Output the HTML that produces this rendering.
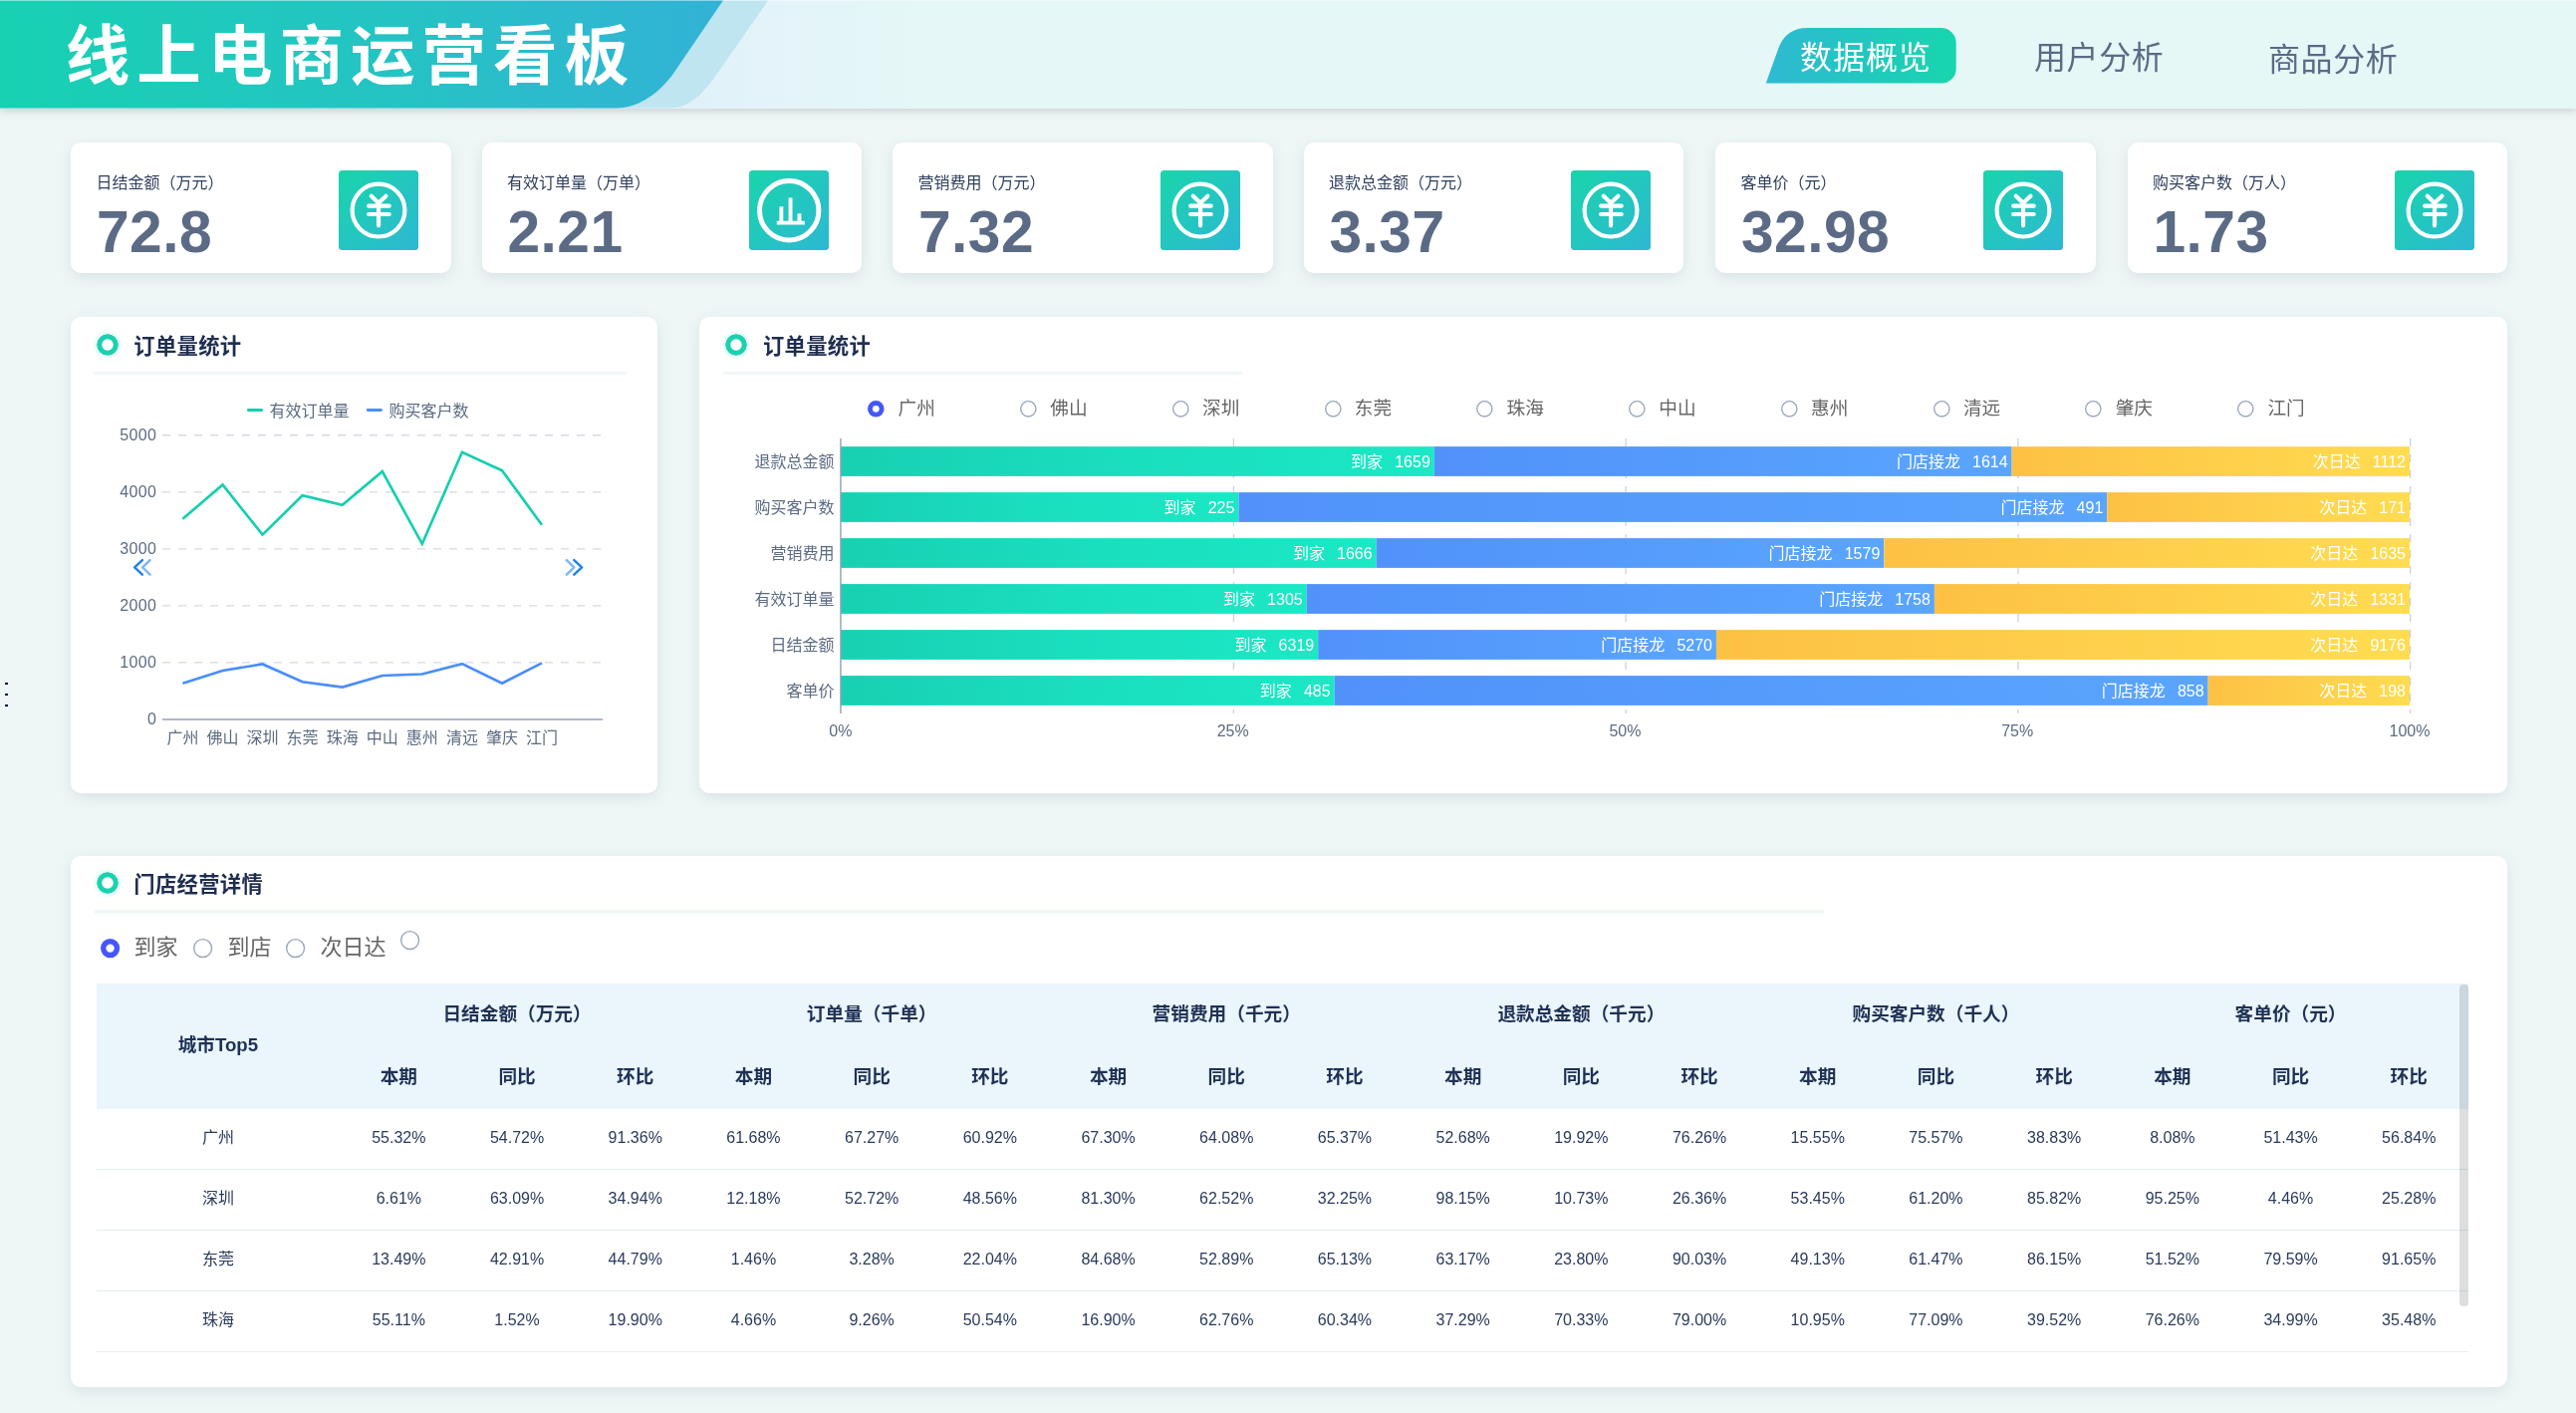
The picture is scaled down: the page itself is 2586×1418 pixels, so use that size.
<!DOCTYPE html><html lang="zh"><head><meta charset="utf-8"><title>线上电商运营看板</title><style>
*{box-sizing:border-box;margin:0;padding:0}
html,body{width:2586px;height:1418px;overflow:hidden}
body{background:#eef7f6;font-family:"Liberation Sans","Noto Sans CJK SC",sans-serif;color:#1f2e4f;position:relative}
.abs{position:absolute}
#root{position:absolute;left:0;top:0;width:2586px;height:1418px;will-change:transform}
#hdr{position:absolute;left:0;top:0;width:2586px;height:108.6px;background:linear-gradient(90deg,#e1f1f9 0,#e1f1f9 27%,#e4f4f9 31%,#e5f7f7 35.5%,#e5f8f6 100%);box-shadow:0 2px 8px rgba(90,100,110,.28)}
#hdr svg{position:absolute;left:0;top:0}
#ttl{position:absolute;left:65.8px;top:17.2px;font-size:64.5px;line-height:80px;font-weight:700;color:#fff;letter-spacing:7.05px;white-space:nowrap;transform-origin:0 50%;transform:scaleX(1.0)}
.tab{position:absolute;top:30px;height:56px;line-height:56px;font-size:32px;letter-spacing:.6px;color:#5b6b85;white-space:nowrap}
.card{position:absolute;top:143px;width:381.5px;height:130.7px;background:#fff;border-radius:10px;box-shadow:0 4px 14px rgba(110,130,150,.17)}
.card .lb{position:absolute;left:25.2px;top:29.5px;font-size:16px;line-height:22px;color:#2f3f5e;white-space:nowrap}
.card .nm{position:absolute;left:25.6px;top:57.1px;font-size:58.7px;line-height:66px;font-weight:700;color:#5b6b85;white-space:nowrap;letter-spacing:.5px}
.card svg{position:absolute;left:268.5px;top:28px}
.panel{position:absolute;background:#fff;border-radius:10px;box-shadow:0 4px 14px rgba(110,130,150,.17)}
.ptitle{position:absolute;left:63.3px;top:13.8px;letter-spacing:.3px;font-size:21.33px;line-height:32px;font-weight:700;color:#1f2e4f;white-space:nowrap}
.ring{position:absolute;left:25.8px;top:16.6px;width:22px;height:22px;border-radius:50%;background:radial-gradient(circle closest-side,#fff 0,#fff 5.2px,#1dd1af 6.1px,#1dd1af 10.4px,rgba(29,209,175,0) 11px);box-shadow:0 0 5px rgba(80,225,205,.45)}
.pline{position:absolute;left:23.5px;top:55px;height:3.4px;background:#f0f7f8}
.t16{font-size:16px;line-height:20px;white-space:nowrap}
.rad{position:absolute;border-radius:50%}
.rad.on{background:radial-gradient(circle closest-side,#fff 0,#fff calc(var(--h) - .5px),#4656f8 calc(var(--h) + .5px),#4656f8 calc(100% - .8px),rgba(70,86,248,0) 100%)}
.rad.off{background:radial-gradient(circle closest-side,#fff 0,#fff calc(100% - 1.9px),#a3b0c6 calc(100% - 1.3px),#a3b0c6 calc(100% - .6px),rgba(163,176,198,0) 100%)}
.rl{position:absolute;color:#666;white-space:nowrap}
</style></head><body><div id="root">
<div id="hdr">
<svg width="900" height="108.6" viewBox="0 0 900 107.7" preserveAspectRatio="none"><defs><linearGradient id="hg" x1="0" y1="0" x2="1" y2="0"><stop offset="0" stop-color="#17d1b2"/><stop offset="0.55" stop-color="#25c3c4"/><stop offset="1" stop-color="#33b2d6"/></linearGradient></defs>
<path d="M0 0H771.6L725.6 65.2C710.6 86.4 697 107.7 671 107.7H0Z" fill="#bfe5f1"/>
<path d="M0 0H726.2L676.7 72.2C664.2 90.4 642 107.7 619 107.7H0Z" fill="url(#hg)"/>
</svg>
<div class="abs" style="left:0;top:0;width:2586px;height:1px;background:rgba(255,255,255,.45)"></div>
<div id="ttl">线上电商运营看板</div>
<svg width="200" height="60" viewBox="0 0 200 60" style="left:1770px;top:26px"><defs><linearGradient id="tg" x1="0" y1="0" x2="1" y2="0"><stop offset="0" stop-color="#2eb9d3"/><stop offset="1" stop-color="#17d6ad"/></linearGradient></defs><path d="M2.8 57.6L14.8 23.9C20.2 8.7 30 2.1 44.6 2.1H178.7A15 15 0 0 1 193.7 17.1V43.1A14.5 14.5 0 0 1 179.2 57.6Z" fill="url(#tg)"/></svg>
<div class="tab" style="left:1807px;color:#fff;letter-spacing:1px">数据概览</div>
<div class="tab" style="left:2042px">用户分析</div>
<div class="tab" style="left:2277px;top:32px">商品分析</div>
</div>
<div class="card" style="left:71.3px"><div class="lb">日结金额（万元）</div><div class="nm">72.8</div><svg width="80" height="80" viewBox="0 0 80 80"><defs><linearGradient id="ig0" x1="0" y1="0" x2="1" y2="1"><stop offset="0" stop-color="#19d5ab"/><stop offset="1" stop-color="#2db8d3"/></linearGradient></defs><rect width="80" height="80" rx="3.5" fill="url(#ig0)"/><circle cx="40" cy="40.1" r="26.4" fill="none" stroke="#fff" stroke-width="4.2"/><path d="M32.8 25.8L40.05 32.7L47.4 25.8M40.05 32.7V55.3M30.1 35.7H50.7M30.1 44H50.7" fill="none" stroke="#fff" stroke-width="4.2" stroke-linecap="round" stroke-linejoin="round"/></svg></div>
<div class="card" style="left:483.8px"><div class="lb">有效订单量（万单）</div><div class="nm">2.21</div><svg width="80" height="80" viewBox="0 0 80 80"><defs><linearGradient id="ig1" x1="0" y1="0" x2="1" y2="1"><stop offset="0" stop-color="#19d5ab"/><stop offset="1" stop-color="#2db8d3"/></linearGradient></defs><rect width="80" height="80" rx="3.5" fill="url(#ig1)"/><circle cx="40.2" cy="40.3" r="29.7" fill="none" stroke="#fff" stroke-width="5"/><path d="M27.8 50.7H55.8V54.6H27.8ZM30.4 36.2H34.3V51H30.4ZM39.6 27.4H43.5V51H39.6ZM48.5 43.3H52.4V51H48.5Z" fill="#fff"/></svg></div>
<div class="card" style="left:896.3px"><div class="lb">营销费用（万元）</div><div class="nm">7.32</div><svg width="80" height="80" viewBox="0 0 80 80"><defs><linearGradient id="ig2" x1="0" y1="0" x2="1" y2="1"><stop offset="0" stop-color="#19d5ab"/><stop offset="1" stop-color="#2db8d3"/></linearGradient></defs><rect width="80" height="80" rx="3.5" fill="url(#ig2)"/><circle cx="40" cy="40.1" r="26.4" fill="none" stroke="#fff" stroke-width="4.2"/><path d="M32.8 25.8L40.05 32.7L47.4 25.8M40.05 32.7V55.3M30.1 35.7H50.7M30.1 44H50.7" fill="none" stroke="#fff" stroke-width="4.2" stroke-linecap="round" stroke-linejoin="round"/></svg></div>
<div class="card" style="left:1308.8px"><div class="lb">退款总金额（万元）</div><div class="nm">3.37</div><svg width="80" height="80" viewBox="0 0 80 80"><defs><linearGradient id="ig3" x1="0" y1="0" x2="1" y2="1"><stop offset="0" stop-color="#19d5ab"/><stop offset="1" stop-color="#2db8d3"/></linearGradient></defs><rect width="80" height="80" rx="3.5" fill="url(#ig3)"/><circle cx="40" cy="40.1" r="26.4" fill="none" stroke="#fff" stroke-width="4.2"/><path d="M32.8 25.8L40.05 32.7L47.4 25.8M40.05 32.7V55.3M30.1 35.7H50.7M30.1 44H50.7" fill="none" stroke="#fff" stroke-width="4.2" stroke-linecap="round" stroke-linejoin="round"/></svg></div>
<div class="card" style="left:1722.3px"><div class="lb">客单价（元）</div><div class="nm">32.98</div><svg width="80" height="80" viewBox="0 0 80 80"><defs><linearGradient id="ig4" x1="0" y1="0" x2="1" y2="1"><stop offset="0" stop-color="#19d5ab"/><stop offset="1" stop-color="#2db8d3"/></linearGradient></defs><rect width="80" height="80" rx="3.5" fill="url(#ig4)"/><circle cx="40" cy="40.1" r="26.4" fill="none" stroke="#fff" stroke-width="4.2"/><path d="M32.8 25.8L40.05 32.7L47.4 25.8M40.05 32.7V55.3M30.1 35.7H50.7M30.1 44H50.7" fill="none" stroke="#fff" stroke-width="4.2" stroke-linecap="round" stroke-linejoin="round"/></svg></div>
<div class="card" style="left:2135.8px"><div class="lb">购买客户数（万人）</div><div class="nm">1.73</div><svg width="80" height="80" viewBox="0 0 80 80"><defs><linearGradient id="ig5" x1="0" y1="0" x2="1" y2="1"><stop offset="0" stop-color="#19d5ab"/><stop offset="1" stop-color="#2db8d3"/></linearGradient></defs><rect width="80" height="80" rx="3.5" fill="url(#ig5)"/><circle cx="40" cy="40.1" r="26.4" fill="none" stroke="#fff" stroke-width="4.2"/><path d="M32.8 25.8L40.05 32.7L47.4 25.8M40.05 32.7V55.3M30.1 35.7H50.7M30.1 44H50.7" fill="none" stroke="#fff" stroke-width="4.2" stroke-linecap="round" stroke-linejoin="round"/></svg></div>
<div class="panel" style="left:71px;top:318px;width:589px;height:478px">
<div class="ring"></div><div class="ptitle">订单量统计</div><div class="pline" style="width:533px"></div>
</div>
<svg class="abs" style="left:71px;top:318px" width="589" height="478" viewBox="71 318 589 478" font-family='"Liberation Sans","Noto Sans CJK SC",sans-serif' font-size="16">
<text x="157.4" y="726.9" text-anchor="end" fill="#5c6b82" letter-spacing=".4">0</text>
<path d="M163 664.9H605" stroke="#d4d9e3" stroke-width="1.35" stroke-dasharray="8 8" fill="none"/>
<text x="157.4" y="669.8" text-anchor="end" fill="#5c6b82" letter-spacing=".4">1000</text>
<path d="M163 607.9H605" stroke="#d4d9e3" stroke-width="1.35" stroke-dasharray="8 8" fill="none"/>
<text x="157.4" y="612.8" text-anchor="end" fill="#5c6b82" letter-spacing=".4">2000</text>
<path d="M163 550.8H605" stroke="#d4d9e3" stroke-width="1.35" stroke-dasharray="8 8" fill="none"/>
<text x="157.4" y="555.7" text-anchor="end" fill="#5c6b82" letter-spacing=".4">3000</text>
<path d="M163 493.8H605" stroke="#d4d9e3" stroke-width="1.35" stroke-dasharray="8 8" fill="none"/>
<text x="157.4" y="498.7" text-anchor="end" fill="#5c6b82" letter-spacing=".4">4000</text>
<path d="M163 436.7H605" stroke="#d4d9e3" stroke-width="1.35" stroke-dasharray="8 8" fill="none"/>
<text x="157.4" y="441.6" text-anchor="end" fill="#5c6b82" letter-spacing=".4">5000</text>
<path d="M163 722H605" stroke="#93a0b8" stroke-width="1.35"/>
<text x="183.4" y="745.6" text-anchor="middle" fill="#5c6b82">广州</text>
<text x="223.5" y="745.6" text-anchor="middle" fill="#5c6b82">佛山</text>
<text x="263.5" y="745.6" text-anchor="middle" fill="#5c6b82">深圳</text>
<text x="303.6" y="745.6" text-anchor="middle" fill="#5c6b82">东莞</text>
<text x="343.7" y="745.6" text-anchor="middle" fill="#5c6b82">珠海</text>
<text x="383.8" y="745.6" text-anchor="middle" fill="#5c6b82">中山</text>
<text x="423.8" y="745.6" text-anchor="middle" fill="#5c6b82">惠州</text>
<text x="463.9" y="745.6" text-anchor="middle" fill="#5c6b82">清远</text>
<text x="504.0" y="745.6" text-anchor="middle" fill="#5c6b82">肇庆</text>
<text x="544.0" y="745.6" text-anchor="middle" fill="#5c6b82">江门</text>
<polyline fill="none" stroke="#17cfae" stroke-width="2.7" stroke-linejoin="miter" points="183.4,520.7 223.5,486.5 263.5,536.6 303.6,497.2 343.7,506.7 383.8,473.2 423.8,545.8 463.9,453.8 504.0,472.2 544.0,526.8"/>
<polyline fill="none" stroke="#4a8dfb" stroke-width="2.7" stroke-linejoin="miter" points="183.4,685.7 223.5,673.0 263.5,666.5 303.6,684.3 343.7,689.6 383.8,678.0 423.8,676.5 463.9,666.1 504.0,685.7 544.0,665.4"/>
<path d="M249.3 411.5H262.6" stroke="#17cfae" stroke-width="2.8" stroke-linecap="round"/><text x="270.6" y="417.7" fill="#5c6b82">有效订单量</text>
<path d="M369.2 411.5H382.5" stroke="#4a8dfb" stroke-width="2.8" stroke-linecap="round"/><text x="390.5" y="417.7" fill="#5c6b82">购买客户数</text>
<g fill="none" stroke-width="2.5" stroke-linecap="round" stroke-linejoin="round"><path d="M142.9 562.2L135.1 569.4L142.9 576.6" stroke="#2282ed"/><path d="M150.6 562.2L143.1 569.4L150.6 576.6" stroke="#7db8f7"/><path d="M568.8 562.2L576.3 569.4L568.8 576.6" stroke="#7db8f7"/><path d="M576.3 562.2L584.1 569.4L576.3 576.6" stroke="#2282ed"/></g>
</svg>
<div class="abs" style="left:5px;top:684.6px;width:3px;height:2.8px;background:#020c33"></div>
<div class="abs" style="left:5px;top:695.7px;width:3px;height:2.8px;background:#020c33"></div>
<div class="abs" style="left:5px;top:706.5px;width:3px;height:2.8px;background:#020c33"></div>
<div class="panel" style="left:702px;top:318px;width:1815px;height:478px">
<div class="ring" style="left:26.3px"></div><div class="ptitle" style="left:63.9px">订单量统计</div><div class="pline" style="width:521px"></div>
</div>
<svg class="abs" style="left:870.2px;top:400.5px" width="18.6" height="18.6"><circle cx="9.3" cy="9.3" r="5.85" fill="#fff" stroke="#4656f8" stroke-width="4.9"/></svg><div class="rl" style="left:901.5px;top:396px;font-size:18.67px;line-height:28px">广州</div>
<svg class="abs" style="left:1023.0px;top:400.5px" width="18.6" height="18.6"><circle cx="9.3" cy="9.3" r="7.65" fill="#fff" stroke="#9aa7bd" stroke-width="1.4"/></svg><div class="rl" style="left:1054.3px;top:396px;font-size:18.67px;line-height:28px">佛山</div>
<svg class="abs" style="left:1175.7px;top:400.5px" width="18.6" height="18.6"><circle cx="9.3" cy="9.3" r="7.65" fill="#fff" stroke="#9aa7bd" stroke-width="1.4"/></svg><div class="rl" style="left:1207.0px;top:396px;font-size:18.67px;line-height:28px">深圳</div>
<svg class="abs" style="left:1328.5px;top:400.5px" width="18.6" height="18.6"><circle cx="9.3" cy="9.3" r="7.65" fill="#fff" stroke="#9aa7bd" stroke-width="1.4"/></svg><div class="rl" style="left:1359.8px;top:396px;font-size:18.67px;line-height:28px">东莞</div>
<svg class="abs" style="left:1481.3px;top:400.5px" width="18.6" height="18.6"><circle cx="9.3" cy="9.3" r="7.65" fill="#fff" stroke="#9aa7bd" stroke-width="1.4"/></svg><div class="rl" style="left:1512.6px;top:396px;font-size:18.67px;line-height:28px">珠海</div>
<svg class="abs" style="left:1634.0px;top:400.5px" width="18.6" height="18.6"><circle cx="9.3" cy="9.3" r="7.65" fill="#fff" stroke="#9aa7bd" stroke-width="1.4"/></svg><div class="rl" style="left:1665.3px;top:396px;font-size:18.67px;line-height:28px">中山</div>
<svg class="abs" style="left:1786.8px;top:400.5px" width="18.6" height="18.6"><circle cx="9.3" cy="9.3" r="7.65" fill="#fff" stroke="#9aa7bd" stroke-width="1.4"/></svg><div class="rl" style="left:1818.1px;top:396px;font-size:18.67px;line-height:28px">惠州</div>
<svg class="abs" style="left:1939.6px;top:400.5px" width="18.6" height="18.6"><circle cx="9.3" cy="9.3" r="7.65" fill="#fff" stroke="#9aa7bd" stroke-width="1.4"/></svg><div class="rl" style="left:1970.9px;top:396px;font-size:18.67px;line-height:28px">清远</div>
<svg class="abs" style="left:2092.4px;top:400.5px" width="18.6" height="18.6"><circle cx="9.3" cy="9.3" r="7.65" fill="#fff" stroke="#9aa7bd" stroke-width="1.4"/></svg><div class="rl" style="left:2123.7px;top:396px;font-size:18.67px;line-height:28px">肇庆</div>
<svg class="abs" style="left:2245.1px;top:400.5px" width="18.6" height="18.6"><circle cx="9.3" cy="9.3" r="7.65" fill="#fff" stroke="#9aa7bd" stroke-width="1.4"/></svg><div class="rl" style="left:2276.4px;top:396px;font-size:18.67px;line-height:28px">江门</div>
<svg class="abs" style="left:702px;top:318px" width="1815" height="478" viewBox="702 318 1815 478" font-family='"Liberation Sans","Noto Sans CJK SC",sans-serif' font-size="16" word-spacing="1.6">
<defs><linearGradient id="bg1" x1="0" y1="0" x2="1" y2="0"><stop offset="0" stop-color="#18d0b2"/><stop offset=".5" stop-color="#1adfbf"/><stop offset="1" stop-color="#1be8c5"/></linearGradient><linearGradient id="bg2" x1="0" y1="0" x2="1" y2="0"><stop offset="0" stop-color="#5192fa"/><stop offset="1" stop-color="#5aa5fd"/></linearGradient><linearGradient id="bg3" x1="0" y1="0" x2="1" y2="0"><stop offset="0" stop-color="#fdc144"/><stop offset="1" stop-color="#ffdc50"/></linearGradient></defs>
<path d="M1238.4 440V716" stroke="#ccd2dd" stroke-width="1.3" stroke-dasharray="8 8" fill="none"/>
<path d="M1632.1 440V716" stroke="#ccd2dd" stroke-width="1.3" stroke-dasharray="8 8" fill="none"/>
<path d="M2025.9 440V716" stroke="#ccd2dd" stroke-width="1.3" stroke-dasharray="8 8" fill="none"/>
<path d="M2419.6 440V716" stroke="#ccd2dd" stroke-width="1.3" stroke-dasharray="8 8" fill="none"/>
<text x="843.9" y="738.8" text-anchor="middle" fill="#5c6b82">0%</text>
<text x="1237.7" y="738.8" text-anchor="middle" fill="#5c6b82">25%</text>
<text x="1631.4" y="738.8" text-anchor="middle" fill="#5c6b82">50%</text>
<text x="2025.2" y="738.8" text-anchor="middle" fill="#5c6b82">75%</text>
<text x="2419.0" y="738.8" text-anchor="middle" fill="#5c6b82">100%</text>
<rect x="843.9" y="448.1" width="595.9" height="29.8" fill="url(#bg1)"/>
<rect x="1439.8" y="448.1" width="579.8" height="29.8" fill="url(#bg2)"/>
<rect x="2019.6" y="448.1" width="399.4" height="29.8" fill="url(#bg3)"/>
<text x="1435.8" y="468.7" text-anchor="end" fill="#fff" xml:space="preserve">到家  1659</text>
<text x="2015.6" y="468.7" text-anchor="end" fill="#fff" xml:space="preserve">门店接龙  1614</text>
<text x="2415.0" y="468.7" text-anchor="end" fill="#fff" xml:space="preserve">次日达  1112</text>
<text x="837.5" y="469.1" text-anchor="end" fill="#5c6b82">退款总金额</text>
<rect x="843.9" y="494.1" width="399.5" height="29.8" fill="url(#bg1)"/>
<rect x="1243.4" y="494.1" width="871.9" height="29.8" fill="url(#bg2)"/>
<rect x="2115.3" y="494.1" width="303.7" height="29.8" fill="url(#bg3)"/>
<text x="1239.4" y="514.7" text-anchor="end" fill="#fff" xml:space="preserve">到家  225</text>
<text x="2111.3" y="514.7" text-anchor="end" fill="#fff" xml:space="preserve">门店接龙  491</text>
<text x="2415.0" y="514.7" text-anchor="end" fill="#fff" xml:space="preserve">次日达  171</text>
<text x="837.5" y="515.1" text-anchor="end" fill="#5c6b82">购买客户数</text>
<rect x="843.9" y="540.1" width="537.7" height="29.8" fill="url(#bg1)"/>
<rect x="1381.6" y="540.1" width="509.6" height="29.8" fill="url(#bg2)"/>
<rect x="1891.3" y="540.1" width="527.7" height="29.8" fill="url(#bg3)"/>
<text x="1377.6" y="560.7" text-anchor="end" fill="#fff" xml:space="preserve">到家  1666</text>
<text x="1887.3" y="560.7" text-anchor="end" fill="#fff" xml:space="preserve">门店接龙  1579</text>
<text x="2415.0" y="560.7" text-anchor="end" fill="#fff" xml:space="preserve">次日达  1635</text>
<text x="837.5" y="561.1" text-anchor="end" fill="#5c6b82">营销费用</text>
<rect x="843.9" y="586.1" width="467.8" height="29.8" fill="url(#bg1)"/>
<rect x="1311.7" y="586.1" width="630.2" height="29.8" fill="url(#bg2)"/>
<rect x="1941.9" y="586.1" width="477.1" height="29.8" fill="url(#bg3)"/>
<text x="1307.7" y="606.7" text-anchor="end" fill="#fff" xml:space="preserve">到家  1305</text>
<text x="1937.9" y="606.7" text-anchor="end" fill="#fff" xml:space="preserve">门店接龙  1758</text>
<text x="2415.0" y="606.7" text-anchor="end" fill="#fff" xml:space="preserve">次日达  1331</text>
<text x="837.5" y="607.1" text-anchor="end" fill="#5c6b82">有效订单量</text>
<rect x="843.9" y="632.1" width="479.3" height="29.8" fill="url(#bg1)"/>
<rect x="1323.2" y="632.1" width="399.7" height="29.8" fill="url(#bg2)"/>
<rect x="1723.0" y="632.1" width="696.0" height="29.8" fill="url(#bg3)"/>
<text x="1319.2" y="652.7" text-anchor="end" fill="#fff" xml:space="preserve">到家  6319</text>
<text x="1719.0" y="652.7" text-anchor="end" fill="#fff" xml:space="preserve">门店接龙  5270</text>
<text x="2415.0" y="652.7" text-anchor="end" fill="#fff" xml:space="preserve">次日达  9176</text>
<text x="837.5" y="653.1" text-anchor="end" fill="#5c6b82">日结金额</text>
<rect x="843.9" y="678.1" width="495.7" height="29.8" fill="url(#bg1)"/>
<rect x="1339.6" y="678.1" width="877.0" height="29.8" fill="url(#bg2)"/>
<rect x="2216.6" y="678.1" width="202.4" height="29.8" fill="url(#bg3)"/>
<text x="1335.6" y="698.7" text-anchor="end" fill="#fff" xml:space="preserve">到家  485</text>
<text x="2212.6" y="698.7" text-anchor="end" fill="#fff" xml:space="preserve">门店接龙  858</text>
<text x="2415.0" y="698.7" text-anchor="end" fill="#fff" xml:space="preserve">次日达  198</text>
<text x="837.5" y="699.1" text-anchor="end" fill="#5c6b82">客单价</text>
<path d="M843.95 440V716" stroke="#929fb7" stroke-width="1.4"/>
</svg>
<div class="panel" style="left:71px;top:859px;width:2446px;height:533px">
<div class="ring" style="top:15.5px"></div><div class="ptitle" style="top:13.3px">门店经营详情</div><div class="pline" style="width:1736px;top:54.3px;height:3.6px"></div>
</div>
<svg class="abs" style="left:99.7px;top:940.6px" width="21.2" height="21.2"><circle cx="10.6" cy="10.6" r="6.90" fill="#fff" stroke="#4656f8" stroke-width="5.4"/></svg>
<div class="rl" style="left:134.5px;top:935px;font-size:22px;line-height:32px">到家</div>
<svg class="abs" style="left:193.4px;top:940.6px" width="21.2" height="21.2"><circle cx="10.6" cy="10.6" r="8.95" fill="#fff" stroke="#9aa7bd" stroke-width="1.4"/></svg>
<div class="rl" style="left:228.5px;top:935px;font-size:22px;line-height:32px">到店</div>
<svg class="abs" style="left:286.2px;top:940.6px" width="21.2" height="21.2"><circle cx="10.6" cy="10.6" r="8.95" fill="#fff" stroke="#9aa7bd" stroke-width="1.4"/></svg>
<div class="rl" style="left:321.5px;top:935px;font-size:22px;line-height:32px">次日达</div>
<svg class="abs" style="left:401.4px;top:933.3px" width="21.2" height="21.2"><circle cx="10.6" cy="10.6" r="8.95" fill="#fff" stroke="#9aa7bd" stroke-width="1.4"/></svg>
<div class="abs" style="left:96.8px;top:987.2px;width:2380.8px;height:126.2px;background:#eaf5fc"></div>
<div style="position:absolute;font-weight:700;font-size:18.67px;line-height:28px;color:#1f3154;text-align:center;white-space:nowrap;left:96.8px;width:244.2px;top:1034.5px">城市Top5</div>
<div style="position:absolute;font-weight:700;font-size:18.67px;line-height:28px;color:#1f3154;text-align:center;white-space:nowrap;left:341.0px;width:356.1px;top:1004px">日结金额（万元）</div>
<div style="position:absolute;font-weight:700;font-size:18.67px;line-height:28px;color:#1f3154;text-align:center;white-space:nowrap;left:341.0px;width:118.7px;top:1066.5px">本期</div>
<div style="position:absolute;font-weight:700;font-size:18.67px;line-height:28px;color:#1f3154;text-align:center;white-space:nowrap;left:459.7px;width:118.7px;top:1066.5px">同比</div>
<div style="position:absolute;font-weight:700;font-size:18.67px;line-height:28px;color:#1f3154;text-align:center;white-space:nowrap;left:578.4px;width:118.7px;top:1066.5px">环比</div>
<div style="position:absolute;font-weight:700;font-size:18.67px;line-height:28px;color:#1f3154;text-align:center;white-space:nowrap;left:697.1px;width:356.1px;top:1004px">订单量（千单）</div>
<div style="position:absolute;font-weight:700;font-size:18.67px;line-height:28px;color:#1f3154;text-align:center;white-space:nowrap;left:697.1px;width:118.7px;top:1066.5px">本期</div>
<div style="position:absolute;font-weight:700;font-size:18.67px;line-height:28px;color:#1f3154;text-align:center;white-space:nowrap;left:815.8px;width:118.7px;top:1066.5px">同比</div>
<div style="position:absolute;font-weight:700;font-size:18.67px;line-height:28px;color:#1f3154;text-align:center;white-space:nowrap;left:934.5px;width:118.7px;top:1066.5px">环比</div>
<div style="position:absolute;font-weight:700;font-size:18.67px;line-height:28px;color:#1f3154;text-align:center;white-space:nowrap;left:1053.2px;width:356.1px;top:1004px">营销费用（千元）</div>
<div style="position:absolute;font-weight:700;font-size:18.67px;line-height:28px;color:#1f3154;text-align:center;white-space:nowrap;left:1053.2px;width:118.7px;top:1066.5px">本期</div>
<div style="position:absolute;font-weight:700;font-size:18.67px;line-height:28px;color:#1f3154;text-align:center;white-space:nowrap;left:1171.9px;width:118.7px;top:1066.5px">同比</div>
<div style="position:absolute;font-weight:700;font-size:18.67px;line-height:28px;color:#1f3154;text-align:center;white-space:nowrap;left:1290.6px;width:118.7px;top:1066.5px">环比</div>
<div style="position:absolute;font-weight:700;font-size:18.67px;line-height:28px;color:#1f3154;text-align:center;white-space:nowrap;left:1409.3px;width:356.1px;top:1004px">退款总金额（千元）</div>
<div style="position:absolute;font-weight:700;font-size:18.67px;line-height:28px;color:#1f3154;text-align:center;white-space:nowrap;left:1409.3px;width:118.7px;top:1066.5px">本期</div>
<div style="position:absolute;font-weight:700;font-size:18.67px;line-height:28px;color:#1f3154;text-align:center;white-space:nowrap;left:1528.0px;width:118.7px;top:1066.5px">同比</div>
<div style="position:absolute;font-weight:700;font-size:18.67px;line-height:28px;color:#1f3154;text-align:center;white-space:nowrap;left:1646.7px;width:118.7px;top:1066.5px">环比</div>
<div style="position:absolute;font-weight:700;font-size:18.67px;line-height:28px;color:#1f3154;text-align:center;white-space:nowrap;left:1765.4px;width:356.1px;top:1004px">购买客户数（千人）</div>
<div style="position:absolute;font-weight:700;font-size:18.67px;line-height:28px;color:#1f3154;text-align:center;white-space:nowrap;left:1765.4px;width:118.7px;top:1066.5px">本期</div>
<div style="position:absolute;font-weight:700;font-size:18.67px;line-height:28px;color:#1f3154;text-align:center;white-space:nowrap;left:1884.1px;width:118.7px;top:1066.5px">同比</div>
<div style="position:absolute;font-weight:700;font-size:18.67px;line-height:28px;color:#1f3154;text-align:center;white-space:nowrap;left:2002.8px;width:118.7px;top:1066.5px">环比</div>
<div style="position:absolute;font-weight:700;font-size:18.67px;line-height:28px;color:#1f3154;text-align:center;white-space:nowrap;left:2121.5px;width:356.1px;top:1004px">客单价（元）</div>
<div style="position:absolute;font-weight:700;font-size:18.67px;line-height:28px;color:#1f3154;text-align:center;white-space:nowrap;left:2121.5px;width:118.7px;top:1066.5px">本期</div>
<div style="position:absolute;font-weight:700;font-size:18.67px;line-height:28px;color:#1f3154;text-align:center;white-space:nowrap;left:2240.2px;width:118.7px;top:1066.5px">同比</div>
<div style="position:absolute;font-weight:700;font-size:18.67px;line-height:28px;color:#1f3154;text-align:center;white-space:nowrap;left:2358.9px;width:118.7px;top:1066.5px">环比</div>
<div style="position:absolute;font-size:16px;line-height:24px;color:#2a3b5c;text-align:center;white-space:nowrap;left:96.8px;width:244.2px;top:1130.0px">广州</div>
<div style="position:absolute;font-size:16px;line-height:24px;color:#2a3b5c;text-align:center;white-space:nowrap;left:341.0px;width:118.7px;top:1130.0px">55.32%</div>
<div style="position:absolute;font-size:16px;line-height:24px;color:#2a3b5c;text-align:center;white-space:nowrap;left:459.7px;width:118.7px;top:1130.0px">54.72%</div>
<div style="position:absolute;font-size:16px;line-height:24px;color:#2a3b5c;text-align:center;white-space:nowrap;left:578.4px;width:118.7px;top:1130.0px">91.36%</div>
<div style="position:absolute;font-size:16px;line-height:24px;color:#2a3b5c;text-align:center;white-space:nowrap;left:697.1px;width:118.7px;top:1130.0px">61.68%</div>
<div style="position:absolute;font-size:16px;line-height:24px;color:#2a3b5c;text-align:center;white-space:nowrap;left:815.8px;width:118.7px;top:1130.0px">67.27%</div>
<div style="position:absolute;font-size:16px;line-height:24px;color:#2a3b5c;text-align:center;white-space:nowrap;left:934.5px;width:118.7px;top:1130.0px">60.92%</div>
<div style="position:absolute;font-size:16px;line-height:24px;color:#2a3b5c;text-align:center;white-space:nowrap;left:1053.2px;width:118.7px;top:1130.0px">67.30%</div>
<div style="position:absolute;font-size:16px;line-height:24px;color:#2a3b5c;text-align:center;white-space:nowrap;left:1171.9px;width:118.7px;top:1130.0px">64.08%</div>
<div style="position:absolute;font-size:16px;line-height:24px;color:#2a3b5c;text-align:center;white-space:nowrap;left:1290.6px;width:118.7px;top:1130.0px">65.37%</div>
<div style="position:absolute;font-size:16px;line-height:24px;color:#2a3b5c;text-align:center;white-space:nowrap;left:1409.3px;width:118.7px;top:1130.0px">52.68%</div>
<div style="position:absolute;font-size:16px;line-height:24px;color:#2a3b5c;text-align:center;white-space:nowrap;left:1528.0px;width:118.7px;top:1130.0px">19.92%</div>
<div style="position:absolute;font-size:16px;line-height:24px;color:#2a3b5c;text-align:center;white-space:nowrap;left:1646.7px;width:118.7px;top:1130.0px">76.26%</div>
<div style="position:absolute;font-size:16px;line-height:24px;color:#2a3b5c;text-align:center;white-space:nowrap;left:1765.4px;width:118.7px;top:1130.0px">15.55%</div>
<div style="position:absolute;font-size:16px;line-height:24px;color:#2a3b5c;text-align:center;white-space:nowrap;left:1884.1px;width:118.7px;top:1130.0px">75.57%</div>
<div style="position:absolute;font-size:16px;line-height:24px;color:#2a3b5c;text-align:center;white-space:nowrap;left:2002.8px;width:118.7px;top:1130.0px">38.83%</div>
<div style="position:absolute;font-size:16px;line-height:24px;color:#2a3b5c;text-align:center;white-space:nowrap;left:2121.5px;width:118.7px;top:1130.0px">8.08%</div>
<div style="position:absolute;font-size:16px;line-height:24px;color:#2a3b5c;text-align:center;white-space:nowrap;left:2240.2px;width:118.7px;top:1130.0px">51.43%</div>
<div style="position:absolute;font-size:16px;line-height:24px;color:#2a3b5c;text-align:center;white-space:nowrap;left:2358.9px;width:118.7px;top:1130.0px">56.84%</div>
<div class="abs" style="left:96.8px;top:1173.1px;width:2380.8px;height:1.2px;background:#e4edf0"></div>
<div style="position:absolute;font-size:16px;line-height:24px;color:#2a3b5c;text-align:center;white-space:nowrap;left:96.8px;width:244.2px;top:1191.0px">深圳</div>
<div style="position:absolute;font-size:16px;line-height:24px;color:#2a3b5c;text-align:center;white-space:nowrap;left:341.0px;width:118.7px;top:1191.0px">6.61%</div>
<div style="position:absolute;font-size:16px;line-height:24px;color:#2a3b5c;text-align:center;white-space:nowrap;left:459.7px;width:118.7px;top:1191.0px">63.09%</div>
<div style="position:absolute;font-size:16px;line-height:24px;color:#2a3b5c;text-align:center;white-space:nowrap;left:578.4px;width:118.7px;top:1191.0px">34.94%</div>
<div style="position:absolute;font-size:16px;line-height:24px;color:#2a3b5c;text-align:center;white-space:nowrap;left:697.1px;width:118.7px;top:1191.0px">12.18%</div>
<div style="position:absolute;font-size:16px;line-height:24px;color:#2a3b5c;text-align:center;white-space:nowrap;left:815.8px;width:118.7px;top:1191.0px">52.72%</div>
<div style="position:absolute;font-size:16px;line-height:24px;color:#2a3b5c;text-align:center;white-space:nowrap;left:934.5px;width:118.7px;top:1191.0px">48.56%</div>
<div style="position:absolute;font-size:16px;line-height:24px;color:#2a3b5c;text-align:center;white-space:nowrap;left:1053.2px;width:118.7px;top:1191.0px">81.30%</div>
<div style="position:absolute;font-size:16px;line-height:24px;color:#2a3b5c;text-align:center;white-space:nowrap;left:1171.9px;width:118.7px;top:1191.0px">62.52%</div>
<div style="position:absolute;font-size:16px;line-height:24px;color:#2a3b5c;text-align:center;white-space:nowrap;left:1290.6px;width:118.7px;top:1191.0px">32.25%</div>
<div style="position:absolute;font-size:16px;line-height:24px;color:#2a3b5c;text-align:center;white-space:nowrap;left:1409.3px;width:118.7px;top:1191.0px">98.15%</div>
<div style="position:absolute;font-size:16px;line-height:24px;color:#2a3b5c;text-align:center;white-space:nowrap;left:1528.0px;width:118.7px;top:1191.0px">10.73%</div>
<div style="position:absolute;font-size:16px;line-height:24px;color:#2a3b5c;text-align:center;white-space:nowrap;left:1646.7px;width:118.7px;top:1191.0px">26.36%</div>
<div style="position:absolute;font-size:16px;line-height:24px;color:#2a3b5c;text-align:center;white-space:nowrap;left:1765.4px;width:118.7px;top:1191.0px">53.45%</div>
<div style="position:absolute;font-size:16px;line-height:24px;color:#2a3b5c;text-align:center;white-space:nowrap;left:1884.1px;width:118.7px;top:1191.0px">61.20%</div>
<div style="position:absolute;font-size:16px;line-height:24px;color:#2a3b5c;text-align:center;white-space:nowrap;left:2002.8px;width:118.7px;top:1191.0px">85.82%</div>
<div style="position:absolute;font-size:16px;line-height:24px;color:#2a3b5c;text-align:center;white-space:nowrap;left:2121.5px;width:118.7px;top:1191.0px">95.25%</div>
<div style="position:absolute;font-size:16px;line-height:24px;color:#2a3b5c;text-align:center;white-space:nowrap;left:2240.2px;width:118.7px;top:1191.0px">4.46%</div>
<div style="position:absolute;font-size:16px;line-height:24px;color:#2a3b5c;text-align:center;white-space:nowrap;left:2358.9px;width:118.7px;top:1191.0px">25.28%</div>
<div class="abs" style="left:96.8px;top:1234.2px;width:2380.8px;height:1.2px;background:#e4edf0"></div>
<div style="position:absolute;font-size:16px;line-height:24px;color:#2a3b5c;text-align:center;white-space:nowrap;left:96.8px;width:244.2px;top:1252.1px">东莞</div>
<div style="position:absolute;font-size:16px;line-height:24px;color:#2a3b5c;text-align:center;white-space:nowrap;left:341.0px;width:118.7px;top:1252.1px">13.49%</div>
<div style="position:absolute;font-size:16px;line-height:24px;color:#2a3b5c;text-align:center;white-space:nowrap;left:459.7px;width:118.7px;top:1252.1px">42.91%</div>
<div style="position:absolute;font-size:16px;line-height:24px;color:#2a3b5c;text-align:center;white-space:nowrap;left:578.4px;width:118.7px;top:1252.1px">44.79%</div>
<div style="position:absolute;font-size:16px;line-height:24px;color:#2a3b5c;text-align:center;white-space:nowrap;left:697.1px;width:118.7px;top:1252.1px">1.46%</div>
<div style="position:absolute;font-size:16px;line-height:24px;color:#2a3b5c;text-align:center;white-space:nowrap;left:815.8px;width:118.7px;top:1252.1px">3.28%</div>
<div style="position:absolute;font-size:16px;line-height:24px;color:#2a3b5c;text-align:center;white-space:nowrap;left:934.5px;width:118.7px;top:1252.1px">22.04%</div>
<div style="position:absolute;font-size:16px;line-height:24px;color:#2a3b5c;text-align:center;white-space:nowrap;left:1053.2px;width:118.7px;top:1252.1px">84.68%</div>
<div style="position:absolute;font-size:16px;line-height:24px;color:#2a3b5c;text-align:center;white-space:nowrap;left:1171.9px;width:118.7px;top:1252.1px">52.89%</div>
<div style="position:absolute;font-size:16px;line-height:24px;color:#2a3b5c;text-align:center;white-space:nowrap;left:1290.6px;width:118.7px;top:1252.1px">65.13%</div>
<div style="position:absolute;font-size:16px;line-height:24px;color:#2a3b5c;text-align:center;white-space:nowrap;left:1409.3px;width:118.7px;top:1252.1px">63.17%</div>
<div style="position:absolute;font-size:16px;line-height:24px;color:#2a3b5c;text-align:center;white-space:nowrap;left:1528.0px;width:118.7px;top:1252.1px">23.80%</div>
<div style="position:absolute;font-size:16px;line-height:24px;color:#2a3b5c;text-align:center;white-space:nowrap;left:1646.7px;width:118.7px;top:1252.1px">90.03%</div>
<div style="position:absolute;font-size:16px;line-height:24px;color:#2a3b5c;text-align:center;white-space:nowrap;left:1765.4px;width:118.7px;top:1252.1px">49.13%</div>
<div style="position:absolute;font-size:16px;line-height:24px;color:#2a3b5c;text-align:center;white-space:nowrap;left:1884.1px;width:118.7px;top:1252.1px">61.47%</div>
<div style="position:absolute;font-size:16px;line-height:24px;color:#2a3b5c;text-align:center;white-space:nowrap;left:2002.8px;width:118.7px;top:1252.1px">86.15%</div>
<div style="position:absolute;font-size:16px;line-height:24px;color:#2a3b5c;text-align:center;white-space:nowrap;left:2121.5px;width:118.7px;top:1252.1px">51.52%</div>
<div style="position:absolute;font-size:16px;line-height:24px;color:#2a3b5c;text-align:center;white-space:nowrap;left:2240.2px;width:118.7px;top:1252.1px">79.59%</div>
<div style="position:absolute;font-size:16px;line-height:24px;color:#2a3b5c;text-align:center;white-space:nowrap;left:2358.9px;width:118.7px;top:1252.1px">91.65%</div>
<div class="abs" style="left:96.8px;top:1295.2px;width:2380.8px;height:1.2px;background:#e4edf0"></div>
<div style="position:absolute;font-size:16px;line-height:24px;color:#2a3b5c;text-align:center;white-space:nowrap;left:96.8px;width:244.2px;top:1313.2px">珠海</div>
<div style="position:absolute;font-size:16px;line-height:24px;color:#2a3b5c;text-align:center;white-space:nowrap;left:341.0px;width:118.7px;top:1313.2px">55.11%</div>
<div style="position:absolute;font-size:16px;line-height:24px;color:#2a3b5c;text-align:center;white-space:nowrap;left:459.7px;width:118.7px;top:1313.2px">1.52%</div>
<div style="position:absolute;font-size:16px;line-height:24px;color:#2a3b5c;text-align:center;white-space:nowrap;left:578.4px;width:118.7px;top:1313.2px">19.90%</div>
<div style="position:absolute;font-size:16px;line-height:24px;color:#2a3b5c;text-align:center;white-space:nowrap;left:697.1px;width:118.7px;top:1313.2px">4.66%</div>
<div style="position:absolute;font-size:16px;line-height:24px;color:#2a3b5c;text-align:center;white-space:nowrap;left:815.8px;width:118.7px;top:1313.2px">9.26%</div>
<div style="position:absolute;font-size:16px;line-height:24px;color:#2a3b5c;text-align:center;white-space:nowrap;left:934.5px;width:118.7px;top:1313.2px">50.54%</div>
<div style="position:absolute;font-size:16px;line-height:24px;color:#2a3b5c;text-align:center;white-space:nowrap;left:1053.2px;width:118.7px;top:1313.2px">16.90%</div>
<div style="position:absolute;font-size:16px;line-height:24px;color:#2a3b5c;text-align:center;white-space:nowrap;left:1171.9px;width:118.7px;top:1313.2px">62.76%</div>
<div style="position:absolute;font-size:16px;line-height:24px;color:#2a3b5c;text-align:center;white-space:nowrap;left:1290.6px;width:118.7px;top:1313.2px">60.34%</div>
<div style="position:absolute;font-size:16px;line-height:24px;color:#2a3b5c;text-align:center;white-space:nowrap;left:1409.3px;width:118.7px;top:1313.2px">37.29%</div>
<div style="position:absolute;font-size:16px;line-height:24px;color:#2a3b5c;text-align:center;white-space:nowrap;left:1528.0px;width:118.7px;top:1313.2px">70.33%</div>
<div style="position:absolute;font-size:16px;line-height:24px;color:#2a3b5c;text-align:center;white-space:nowrap;left:1646.7px;width:118.7px;top:1313.2px">79.00%</div>
<div style="position:absolute;font-size:16px;line-height:24px;color:#2a3b5c;text-align:center;white-space:nowrap;left:1765.4px;width:118.7px;top:1313.2px">10.95%</div>
<div style="position:absolute;font-size:16px;line-height:24px;color:#2a3b5c;text-align:center;white-space:nowrap;left:1884.1px;width:118.7px;top:1313.2px">77.09%</div>
<div style="position:absolute;font-size:16px;line-height:24px;color:#2a3b5c;text-align:center;white-space:nowrap;left:2002.8px;width:118.7px;top:1313.2px">39.52%</div>
<div style="position:absolute;font-size:16px;line-height:24px;color:#2a3b5c;text-align:center;white-space:nowrap;left:2121.5px;width:118.7px;top:1313.2px">76.26%</div>
<div style="position:absolute;font-size:16px;line-height:24px;color:#2a3b5c;text-align:center;white-space:nowrap;left:2240.2px;width:118.7px;top:1313.2px">34.99%</div>
<div style="position:absolute;font-size:16px;line-height:24px;color:#2a3b5c;text-align:center;white-space:nowrap;left:2358.9px;width:118.7px;top:1313.2px">35.48%</div>
<div class="abs" style="left:96.8px;top:1356.3px;width:2380.8px;height:1.2px;background:#e4edf0"></div>
<div class="abs" style="left:2469.4px;top:988px;width:8.2px;height:323px;border-radius:4px;background:rgba(90,100,110,.21)"></div>
</div></body></html>
